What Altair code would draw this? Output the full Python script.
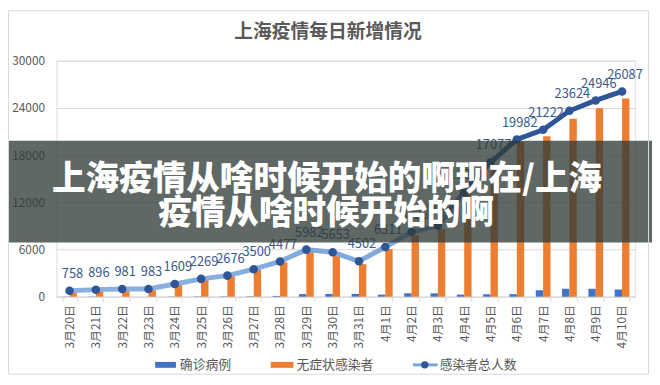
import altair as alt
import pandas as pd

categories = ["3月20日", "3月21日", "3月22日", "3月23日", "3月24日", "3月25日", "3月26日",
              "3月27日", "3月28日", "3月29日", "3月30日", "3月31日", "4月1日", "4月2日",
              "4月3日", "4月4日", "4月5日", "4月6日", "4月7日", "4月8日", "4月9日", "4月10日"]
confirmed = [24, 31, 4, 4, 29, 38, 45, 50, 96, 326, 355, 358, 260, 438, 425, 268, 311, 322,
             824, 1015, 1006, 914]
asymptomatic = [734, 865, 977, 979, 1580, 2231, 2631, 3450, 4381, 5656, 5298, 4144, 6051,
                7788, 8581, 13086, 16766, 19660, 20398, 22609, 23937, 25173]
total = [758, 896, 981, 983, 1609, 2269, 2676, 3500, 4477, 5982, 5653, 4502, 6311, 8226,
         9006, 13354, 17077, 19982, 21222, 23624, 24946, 26087]
series_names = ["确诊病例", "无症状感染者", "感染者总人数"]
y_ticks = [0, 6000, 12000, 18000, 24000, 30000]
chart_title = "上海疫情每日新增情况"
banner_lines = ["上海疫情从啥时候开始的啊现在/上海", "疫情从啥时候开始的啊"]

FONT = "Noto Sans CJK SC"
GRAY = "#595959"
BLUE = "#4472c4"
ORANGE = "#ed7d31"
DARK = "#2f5597"

bars_df = pd.DataFrame({
    "cat": categories * 2,
    "series": [series_names[0]] * len(categories) + [series_names[1]] * len(categories),
    "value": confirmed + asymptomatic,
})
line_df = pd.DataFrame({"cat": categories, "value": total})
one = pd.DataFrame({"a": [0]})

x_enc = alt.X("cat:N", sort=categories,
              scale=alt.Scale(domain=categories, paddingInner=0.44, paddingOuter=0.22),
              axis=alt.Axis(title=None, labelAngle=-90, labelFontSize=12, labelColor=GRAY,
                            labelFont=FONT, domainColor="#d9d9d9", tickColor="#d9d9d9",
                            tickBand="extent", tickSize=5, labelPadding=3, grid=False))
y_enc = alt.Y("value:Q", scale=alt.Scale(domain=[0, 30000], nice=False),
              axis=alt.Axis(title=None, values=y_ticks, format="d", labelFontSize=12,
                            labelColor=GRAY, labelFont=FONT, domain=False, ticks=False,
                            labelPadding=12, gridColor="#d9d9d9"))

bars = alt.Chart(bars_df).mark_bar().encode(
    x=x_enc, y=y_enc,
    xOffset=alt.XOffset("series:N", sort=series_names[:2],
                        scale=alt.Scale(paddingInner=0, paddingOuter=0)),
    color=alt.Color("series:N", scale=alt.Scale(domain=series_names[:2], range=[BLUE, ORANGE]),
                    legend=None),
)

line = alt.Chart(line_df).mark_line(
    strokeWidth=5,
    color=alt.Gradient(gradient="linear", x1=0, y1=1, x2=0, y2=0,
                       stops=[alt.GradientStop(color="#8ab0e0", offset=0),
                              alt.GradientStop(color="#7aa3d8", offset=0.35),
                              alt.GradientStop(color=DARK, offset=0.65),
                              alt.GradientStop(color=DARK, offset=1)]),
).encode(x=alt.X("cat:N", sort=categories), y="value:Q")

points = alt.Chart(line_df).mark_circle(size=75, color=DARK, opacity=1).encode(
    x=alt.X("cat:N", sort=categories), y="value:Q")

labels = alt.Chart(line_df).mark_text(dy=-17, dx=3, fontSize=13, color="#3b5a8a",
                                      font=FONT).encode(
    x=alt.X("cat:N", sort=categories), y="value:Q", text=alt.Text("value:Q", format="d"))

banner = alt.Chart(one).mark_rect(color="#2f3a36", opacity=0.77).encode(
    x=alt.value(-57), x2=alt.value(603), y=alt.value(81), y2=alt.value(184))
banner_t1 = alt.Chart(one).mark_text(fontSize=34, fontWeight=900, color="white", font=FONT,
                                     align="center", baseline="middle").encode(
    x=alt.value(274), y=alt.value(121), text=alt.value(banner_lines[0]))
banner_t2 = alt.Chart(one).mark_text(fontSize=34, fontWeight=900, color="white", font=FONT,
                                     align="center", baseline="middle").encode(
    x=alt.value(273), y=alt.value(155), text=alt.value(banner_lines[1]))

frame = alt.Chart(one).mark_rect(fill=None, stroke="#d9d9d9", strokeWidth=1).encode(
    x=alt.value(-48.5), x2=alt.value(599.5), y=alt.value(-50.5), y2=alt.value(317.5))

title = alt.Chart(one).mark_text(fontSize=19, fontWeight="bold", color=GRAY, font=FONT,
                                 align="center", baseline="middle").encode(
    x=alt.value(275), y=alt.value(-29), text=alt.value(chart_title))

LY = 308
leg_r1 = alt.Chart(one).mark_rect(color=BLUE).encode(
    x=alt.value(100), x2=alt.value(121), y=alt.value(LY - 3), y2=alt.value(LY + 3))
leg_t1 = alt.Chart(one).mark_text(align="left", baseline="middle", fontSize=13, color=GRAY,
                                  font=FONT).encode(
    x=alt.value(125), y=alt.value(LY), text=alt.value(series_names[0]))
leg_r2 = alt.Chart(one).mark_rect(color=ORANGE).encode(
    x=alt.value(217), x2=alt.value(240), y=alt.value(LY - 3), y2=alt.value(LY + 3))
leg_t2 = alt.Chart(one).mark_text(align="left", baseline="middle", fontSize=13, color=GRAY,
                                  font=FONT).encode(
    x=alt.value(243), y=alt.value(LY), text=alt.value(series_names[1]))
leg_l3 = alt.Chart(one).mark_rule(color="#7aa3d8", strokeWidth=3).encode(
    x=alt.value(361), x2=alt.value(386), y=alt.value(LY))
leg_p3 = alt.Chart(one).mark_circle(size=55, color=DARK, opacity=1).encode(
    x=alt.value(373), y=alt.value(LY))
leg_t3 = alt.Chart(one).mark_text(align="left", baseline="middle", fontSize=13, color=GRAY,
                                  font=FONT).encode(
    x=alt.value(388), y=alt.value(LY), text=alt.value(series_names[2]))

chart = alt.layer(
    bars, line, points, labels, banner, banner_t1, banner_t2, frame, title,
    leg_r1, leg_t1, leg_r2, leg_t2, leg_l3, leg_p3, leg_t3,
).properties(
    width=586, height=239,
    autosize=alt.AutoSizeParams(type="none"),
    padding={"left": 49, "top": 51, "right": 17, "bottom": 79},
).configure_view(stroke="#d9d9d9").configure(background="white")

chart.save("out.html", embed_options={"renderer": "svg", "actions": False})
